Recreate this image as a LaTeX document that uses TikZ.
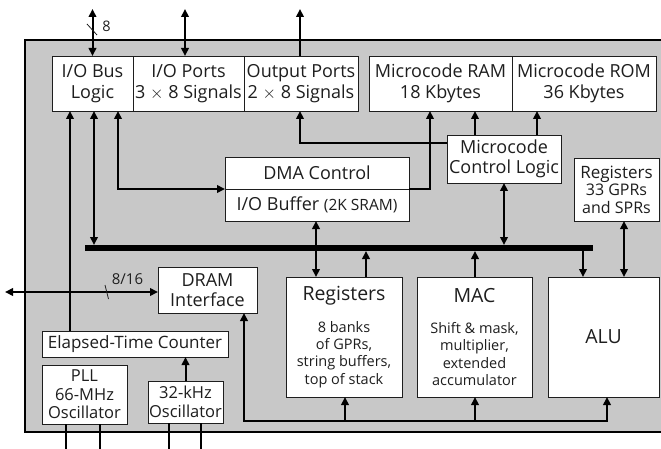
\documentclass[tikz,border=0pt]{standalone}
\usepackage{fontspec}
\setmainfont{Open Sans}
\usetikzlibrary{arrows.meta}
\definecolor{chipgray}{HTML}{C8C8C8}
\definecolor{ink}{HTML}{1E1E1E}
\newcommand{\fbig}{\fontsize{18}{20.5}\selectfont}
\newcommand{\fhuge}{\fontsize{19.5}{22}\selectfont}
\newcommand{\fsmall}{\fontsize{14.5}{17.3}\selectfont}
\newcommand{\fmid}{\fontsize{16.5}{18.5}\selectfont}
\newcommand{\fsub}{\fontsize{16}{17.5}\selectfont}
\begin{document}
\begin{tikzpicture}[x=1pt,y=-1pt,
  box/.style={draw=ink, line width=0.8pt, fill=white, inner sep=0pt,
    outer sep=0pt, align=center, text=ink},
  wire/.style={line width=2pt, draw=black},
  uni/.style={-{Triangle[length=8pt,width=7.5pt]}},
  bi/.style={{Triangle[length=8pt,width=7.5pt]}-{Triangle[length=8pt,width=7.5pt]}},
  tick/.style={line width=0.8pt, draw=ink},
  note/.style={text=ink, inner sep=0pt, font=\fsmall}]
\useasboundingbox (0,0) rectangle (661,449);

% chip outline
\fill[chipgray] (25,40) rectangle (666,432);
\draw[line width=2.2pt] (666,40) -- (25,40) -- (25,432) -- (666,432);

% top row
\node[box, font=\fbig, minimum width=81pt, minimum height=55pt] (iobus) at (92.5,83.5) {I/O Bus\\Logic};
\node[box, font=\fbig, minimum width=111pt, minimum height=55pt] (ioports) at (188.5,83.5) {I/O Ports\\3 $\times$ 8 Signals};
\node[box, font=\fbig, minimum width=114pt, minimum height=55pt] (outports) at (301,83.5) {Output Ports\\2 $\times$ 8 Signals};
\node[box, font=\fbig, minimum width=143pt, minimum height=55pt] (ucram) at (440.5,83.5) {Microcode RAM\\18 Kbytes};
\node[box, font=\fbig, minimum width=144pt, minimum height=55pt] (ucrom) at (584,83.5) {Microcode ROM\\36 Kbytes};

% middle
\node[box, font=\fbig, minimum width=184pt, minimum height=32pt] (dma) at (317,173) {DMA Control};
\node[box, font=\fbig, minimum width=184pt, minimum height=32pt] (iobuf) at (317,205) {I/O Buffer {\fontsize{15.5}{17}\selectfont(2K SRAM)}};
\node[box, font=\fbig, minimum width=114pt, minimum height=48pt] (mcl) at (504,159) {Microcode\\Control Logic};
\node[box, font=\fsub, minimum width=85pt, minimum height=63pt] (regs33) at (616.5,189.5) {{\fontsize{17}{18}\selectfont Registers}\\33 GPRs\\and SPRs};

% lower
\node[box, font=\fbig, minimum width=99pt, minimum height=46pt] (dram) at (207.5,290) {DRAM\\Interface};
\node[box, font=\fsmall, minimum width=116pt, minimum height=120pt] (regs) at (344,337) {{\fhuge Registers}\\[14pt]8 banks\\of GPRs,\\string buffers,\\top of stack};
\node[box, font=\fsmall, minimum width=115pt, minimum height=120pt] (mac) at (474.5,337) {{\fhuge MAC}\\[14pt]Shift \& mask,\\multiplier,\\extended\\accumulator};
\node[box, font=\fhuge, minimum width=111pt, minimum height=120pt] (alu) at (603.5,337) {ALU};
\node[box, font=\fontsize{17}{19}\selectfont, minimum width=186pt, minimum height=26pt] (etc) at (135,344) {Elapsed-Time Counter};
\node[box, font=\fmid, minimum width=85pt, minimum height=59pt] (pll) at (84.5,394.5) {PLL\\66-MHz\\Oscillator};
\node[box, font=\fmid, minimum width=75pt, minimum height=42pt] (osc) at (185.5,402) {32-kHz\\Oscillator};

% internal bus
\coordinate (busL) at (85,248);
\coordinate (busR) at (593,248);
\coordinate (busT) at (0,245);
\coordinate (busB) at (0,251);
\draw[line width=6.5pt] (busL) -- (busR);

% column positions of the connectors
\coordinate (c70) at (70,0);
\coordinate (c94) at (94,0);
\coordinate (c118) at (118,0);
\coordinate (c300) at (300,0);
\coordinate (c316) at (316,0);
\coordinate (c345) at (345,0);
\coordinate (c366) at (366,0);
\coordinate (c430) at (430,0);
\coordinate (c475) at (475,0);
\coordinate (c537) at (537,0);
\coordinate (c583) at (583,0);
\coordinate (c624) at (624,0);
\coordinate (c66) at (66,0);
\coordinate (c100) at (100,0);
\coordinate (c169) at (169,0);
\coordinate (c201) at (201,0);
\coordinate (r143) at (0,143);
\coordinate (pins) at (0,449);

% external pins at the top
\coordinate (t1) at (92.5,9);
\coordinate (t2) at (185,9);
\coordinate (t3) at (300,9);
\draw[wire,bi] (t1) -- (iobus.north);
\draw[tick] (87,24) -- (97,35);
\node[note] (w8) at (106.5,26) {8};
\draw[wire,bi] (t2) -- (t2 |- ioports.north);
\draw[wire,uni] (c300 |- outports.north) -- (t3);

% I/O bus logic connections
\draw[wire,uni] (c70 |- etc.north) -- (c70 |- iobus.south);
\draw[wire,bi] (c94 |- busT) -- (c94 |- iobus.south);
\draw[wire,bi] (c118 |- iobus.south) |- (iobuf.north west);

% DMA and microcode control
\draw[wire,uni] (iobuf.north east) -| (c430 |- ucram.south);
\draw[wire,uni] (r143 -| mcl.west) -| (c300 |- outports.south);
\draw[wire,uni] (c475 |- mcl.north) -- (c475 |- ucram.south);
\draw[wire,uni] (c537 |- mcl.north) -- (c537 |- ucrom.south);
\draw[wire,bi] (mcl.south) -- (mcl.south |- busT);

% bus to execution units
\draw[wire,bi] (c316 |- iobuf.south) -- (c316 |- regs.north);
\draw[wire,uni] (c366 |- regs.north) -- (c366 |- busB);
\draw[wire,uni] (c475 |- mac.north) -- (c475 |- busB);
\draw[wire,uni] (c583 |- busB) -- (c583 |- alu.north);
\draw[wire,bi] (c624 |- regs33.south) -- (c624 |- alu.north);

% DRAM port
\coordinate (ext) at (5,292);
\draw[wire,bi] (ext) -- (ext -| dram.west);
\draw[tick] (105,285) -- (108.5,299);
\node[note, font=\fontsize{15}{17}\selectfont] (w816) at (127.5,279) {8/16};

% oscillators
\draw[wire,uni] (osc.north) -- (osc.north |- etc.south);
\draw[wire] (c66 |- pll.south) -- (c66 |- pins);
\draw[wire] (c100 |- pll.south) -- (c100 |- pins);
\draw[wire] (c169 |- osc.south) -- (c169 |- pins);
\draw[wire] (c201 |- osc.south) -- (c201 |- pins);

% lower return line
\coordinate (r0) at (244,421);
\coordinate (r1) at (607,421);
\draw[wire,bi] (r0 |- dram.south) -- (r0) -- (r1) -- (r1 |- alu.south);
\draw[wire,uni] (c345 |- r0) -- (c345 |- regs.south);
\draw[wire,uni] (c475 |- r0) -- (c475 |- mac.south);
\end{tikzpicture}
\end{document}
